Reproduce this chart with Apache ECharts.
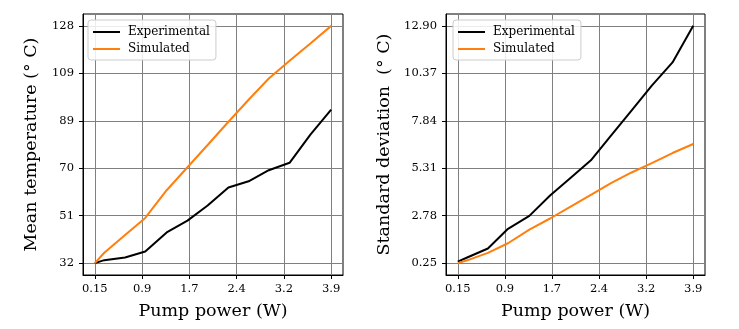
<!DOCTYPE html>
<html>
<head>
<meta charset="utf-8">
<script src="https://cdn.jsdelivr.net/npm/echarts@6/dist/echarts.min.js"></script>
<style>
  html, body { margin: 0; padding: 0; background: #fff; }
  #chart { width: 739px; height: 329px; }
</style>
</head>
<body>
<div id="chart"></div>
<script>
// pump power (W), shared by both panels
var power = [0.15, 0.3, 0.63, 0.95, 1.29, 1.62, 1.94, 2.27, 2.59, 2.91, 3.24, 3.57, 3.9]

// left panel: mean temperature (deg C)
var meanExp = [32.0, 33.2, 34.3, 36.7, 44.4, 49.2, 55.3, 62.6, 65.1, 69.6, 72.6, 84.0, 94.1]
var meanSim = [32.0, 36.2, 43.4, 50.3, 61.5, 70.8, 79.8, 89.2, 98.1, 106.7, 113.9, 120.9, 128.0]

// right panel: standard deviation (deg C)
var stdExp = [0.33, 0.55, 1.03, 2.08, 2.77, 3.86, 4.78, 5.73, 7.05, 8.36, 9.71, 10.95, 12.9]
var stdSim = [0.25, 0.40, 0.80, 1.31, 2.04, 2.63, 3.25, 3.89, 4.51, 5.07, 5.58, 6.12, 6.60]

// tick positions and their printed labels
var xTicks = [0.15, 0.9, 1.65, 2.4, 3.15, 3.9]
var xTickLabels = ['0.15', '0.9', '1.7', '2.4', '3.2', '3.9']
var meanTicks = [32, 51.2, 70.4, 89.6, 108.8, 128]
var meanTickLabels = ['32', '51', '70', '89', '109', '128']
var stdTicks = [0.25, 2.78, 5.31, 7.84, 10.37, 12.9]
var stdTickLabels = ['0.25', '2.78', '5.31', '7.84', '10.37', '12.90']

var FONT = 'DejaVu Serif'

function pairs(xs, ys) {
  var out = []
  for (var i = 0; i < xs.length; i++) out.push([xs[i], ys[i]])
  return out
}

// matplotlib style 5% margin around the data
function padRange(ticks) {
  var lo = ticks[0], hi = ticks[ticks.length - 1]
  var m = (hi - lo) * 0.05
  return [lo - m, hi + m]
}

function labelFor(ticks, labels) {
  return function (v) {
    var best = 0
    for (var i = 1; i < ticks.length; i++) {
      if (Math.abs(ticks[i] - v) < Math.abs(ticks[best] - v)) best = i
    }
    return labels[best]
  }
}

function xAxisCfg(gridIndex) {
  var r = padRange(xTicks)
  return {
    type: 'value',
    gridIndex: gridIndex,
    min: r[0],
    max: r[1],
    name: 'Pump power (W)',
    nameLocation: 'middle',
    nameGap: 27,
    nameTextStyle: { fontFamily: FONT, fontSize: 17.5, color: '#000' },
    axisLine: { show: true, onZero: false, lineStyle: { color: '#000', width: 1 } },
    axisTick: { show: true, length: 4, customValues: xTicks, lineStyle: { color: '#000' } },
    axisLabel: {
      customValues: xTicks,
      margin: 8,
      fontFamily: FONT,
      fontSize: 11.5,
      color: '#000',
      formatter: labelFor(xTicks, xTickLabels)
    },
    splitLine: { show: true, lineStyle: { color: '#808080', width: 1 } }
  }
}

function yAxisCfg(gridIndex, ticks, labels, name, gap) {
  var r = padRange(ticks)
  return {
    type: 'value',
    gridIndex: gridIndex,
    min: r[0],
    max: r[1],
    name: name,
    nameLocation: 'middle',
    nameRotate: 90,
    nameGap: gap,
    nameTextStyle: { fontFamily: FONT, fontSize: 17.5, color: '#000' },
    axisLine: { show: true, onZero: false, lineStyle: { color: '#000', width: 1 } },
    axisTick: { show: true, length: 4, customValues: ticks, lineStyle: { color: '#000' } },
    axisLabel: {
      customValues: ticks,
      margin: 9,
      fontFamily: FONT,
      fontSize: 11.5,
      color: '#000',
      formatter: labelFor(ticks, labels)
    },
    splitLine: { show: true, lineStyle: { color: '#808080', width: 1 } }
  }
}

function legendCfg(left) {
  return {
    left: left,
    top: 20,
    orient: 'vertical',
    icon: 'rect',
    itemWidth: 27,
    itemHeight: 2,
    itemGap: 5,
    padding: [6, 6, 5, 5],
    backgroundColor: 'rgba(255,255,255,0.85)',
    borderColor: '#cccccc',
    borderWidth: 1,
    borderRadius: 3,
    textStyle: { fontFamily: FONT, fontSize: 12, color: '#000', padding: [0, 0, 0, 3] },
    data: ['Experimental', 'Simulated']
  }
}

function lineSeries(name, color, xi, data) {
  return {
    name: name,
    type: 'line',
    xAxisIndex: xi,
    yAxisIndex: xi,
    data: data,
    symbol: 'none',
    color: color,
    lineStyle: { color: color, width: 2 },
    animation: false,
    z: 3
  }
}

var chart = echarts.init(document.getElementById('chart'))
var option = {
  backgroundColor: '#fff',
  animation: false,
  grid: [
    { left: 83, top: 14, width: 260, height: 261, show: true, borderColor: '#000', borderWidth: 1, backgroundColor: 'transparent' },
    { left: 446, top: 14, width: 259, height: 261, show: true, borderColor: '#000', borderWidth: 1, backgroundColor: 'transparent' }
  ],
  legend: [legendCfg(88), legendCfg(453)],
  xAxis: [xAxisCfg(0), xAxisCfg(1)],
  yAxis: [
    yAxisCfg(0, meanTicks, meanTickLabels, 'Mean temperature (° C)', 43),
    yAxisCfg(1, stdTicks, stdTickLabels, 'Standard deviation  (° C)', 53)
  ],
  series: [
    lineSeries('Experimental', '#000000', 0, pairs(power, meanExp)),
    lineSeries('Simulated', '#ff7f0e', 0, pairs(power, meanSim)),
    lineSeries('Experimental', '#000000', 1, pairs(power, stdExp)),
    lineSeries('Simulated', '#ff7f0e', 1, pairs(power, stdSim))
  ]
}
chart.setOption(option)
</script>
</body>
</html>
